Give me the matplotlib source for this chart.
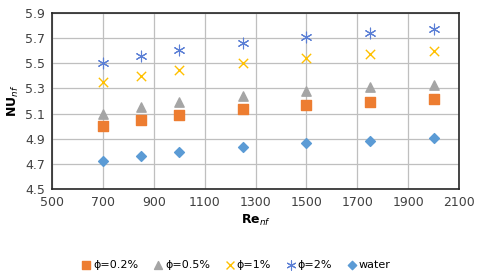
import matplotlib
matplotlib.use("Agg")
import matplotlib.pyplot as plt

re = [700, 850, 1000, 1250, 1500, 1750, 2000]
phi02 = [5.00, 5.05, 5.085, 5.135, 5.17, 5.195, 5.215]
phi05 = [5.10, 5.15, 5.19, 5.24, 5.28, 5.31, 5.33]
phi1 = [5.35, 5.40, 5.45, 5.50, 5.545, 5.575, 5.60]
phi2 = [5.50, 5.555, 5.605, 5.66, 5.71, 5.74, 5.77]
water = [4.72, 4.76, 4.795, 4.835, 4.865, 4.885, 4.905]
xticks = [500, 700, 900, 1100, 1300, 1500, 1700, 1900, 2100]
yticks = [4.5, 4.7, 4.9, 5.1, 5.3, 5.5, 5.7, 5.9]

plt.rcParams['font.family'] = ['DejaVu Sans']
fig = plt.figure(figsize=(4.8, 2.77), dpi=100)
ax = fig.add_axes([52/480, 1-189/277, (459-52)/480, (189-13)/277])

ax.scatter(re, phi02, marker='s', s=45, color='#ED7D31', label='ϕ=0.2%', zorder=3)
ax.scatter(re, phi05, marker='^', s=45, color='#A5A5A5', label='ϕ=0.5%', zorder=3)
ax.scatter(re, phi1, marker='x', s=45, color='#FFC000', linewidths=1.0, label='ϕ=1%', zorder=3)
ax.scatter(re, phi2, marker=(6, 2, 0), s=60, color='#5B7FD5', linewidths=0.8, label='ϕ=2%', zorder=3)
ax.scatter(re, water, marker='D', s=25, color='#5B9BD5', label='water', zorder=3)

ax.set_xlim(500, 2100)
ax.set_ylim(4.5, 5.9)
ax.set_xticks(xticks)
ax.set_yticks(yticks)
ax.set_yticklabels([f'{v:.1f}' for v in yticks])
ax.grid(True, color='#BFBFBF', linewidth=0.9)
ax.set_axisbelow(True)
for s in ax.spines.values():
    s.set_color('#262626')
    s.set_linewidth(1.2)
ax.tick_params(length=0, labelsize=9, colors='#404040', pad=5)
ax.set_xlabel('Re$_{nf}$', fontsize=9, fontweight='bold', labelpad=3)
ax.set_ylabel('NU$_{nf}$', fontsize=9, fontweight='bold', labelpad=3)

fig.legend(loc='lower center', bbox_to_anchor=(0.49, -0.01), ncol=5, frameon=False,
           fontsize=8, handletextpad=0.0, columnspacing=1.2, handlelength=1.2,
           markerscale=0.85)
fig.savefig('out.png', dpi=100)
